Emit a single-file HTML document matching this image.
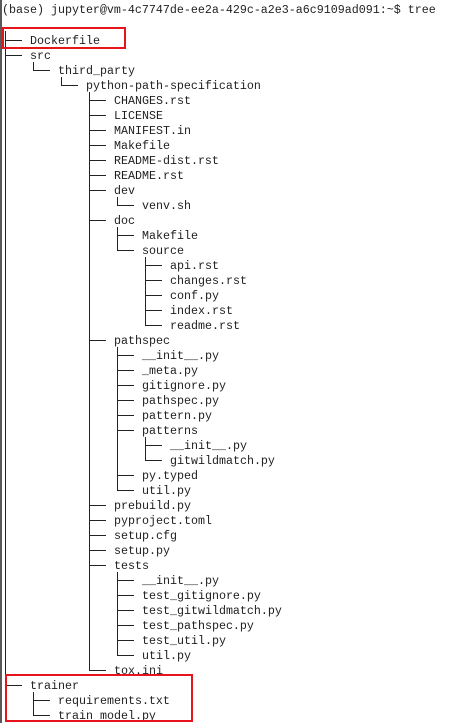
<!DOCTYPE html>
<html><head><meta charset="utf-8"><style>
html,body{margin:0;padding:0;background:#fff;width:451px;height:723px;overflow:hidden}
svg{display:block}
text{font-family:"Liberation Mono","DejaVu Sans Mono",monospace;font-size:11.67px;fill:#1e1e1e}
</style></head><body>
<svg width="451" height="723" viewBox="0 0 451 723">
<line x1="1" y1="0" x2="1" y2="723" stroke="#222" stroke-width="1.5"/>
<text x="2" y="13">(base) jupyter@vm-4c7747de-ee2a-429c-a2e3-a6c9109ad091:~$ tree</text>
<g stroke="#222" stroke-width="1">
<!-- verticals -->
<line x1="5.5" y1="31" x2="5.5" y2="685"/>
<line x1="33.5" y1="62" x2="33.5" y2="70"/>
<line x1="61.5" y1="77" x2="61.5" y2="85"/>
<line x1="89.5" y1="92" x2="89.5" y2="670"/>
<line x1="117.5" y1="197" x2="117.5" y2="205"/>
<line x1="117.5" y1="227" x2="117.5" y2="250"/>
<line x1="145.5" y1="257" x2="145.5" y2="325"/>
<line x1="117.5" y1="347" x2="117.5" y2="490"/>
<line x1="145.5" y1="437" x2="145.5" y2="460"/>
<line x1="117.5" y1="572" x2="117.5" y2="655"/>
<line x1="33.5" y1="692" x2="33.5" y2="715"/>
<!-- horizontals -->
<path d="M5 40.5h17M5 55.5h17M33 70.5h17M61 85.5h17
M89 100.5h17M89 115.5h17M89 130.5h17M89 145.5h17M89 160.5h17M89 175.5h17M89 190.5h17
M117 205.5h17M89 220.5h17M117 235.5h17M117 250.5h17
M145 265.5h17M145 280.5h17M145 295.5h17M145 310.5h17M145 325.5h17
M89 340.5h17M117 355.5h17M117 370.5h17M117 385.5h17M117 400.5h17M117 415.5h17M117 430.5h17
M145 445.5h17M145 460.5h17M117 475.5h17M117 490.5h17
M89 505.5h17M89 520.5h17M89 535.5h17M89 550.5h17M89 565.5h17
M117 580.5h17M117 595.5h17M117 610.5h17M117 625.5h17M117 640.5h17M117 655.5h17
M89 670.5h17M5 685.5h17M33 700.5h17M33 715.5h17"/>
</g>
<text x="30" y="44">Dockerfile</text>
<text x="30" y="59">src</text>
<text x="58" y="74">third_party</text>
<text x="86" y="89">python-path-specification</text>
<text x="114" y="104">CHANGES.rst</text>
<text x="114" y="119">LICENSE</text>
<text x="114" y="134">MANIFEST.in</text>
<text x="114" y="149">Makefile</text>
<text x="114" y="164">README-dist.rst</text>
<text x="114" y="179">README.rst</text>
<text x="114" y="194">dev</text>
<text x="142" y="209">venv.sh</text>
<text x="114" y="224">doc</text>
<text x="142" y="239">Makefile</text>
<text x="142" y="254">source</text>
<text x="170" y="269">api.rst</text>
<text x="170" y="284">changes.rst</text>
<text x="170" y="299">conf.py</text>
<text x="170" y="314">index.rst</text>
<text x="170" y="329">readme.rst</text>
<text x="114" y="344">pathspec</text>
<text x="142" y="359">__init__.py</text>
<text x="142" y="374">_meta.py</text>
<text x="142" y="389">gitignore.py</text>
<text x="142" y="404">pathspec.py</text>
<text x="142" y="419">pattern.py</text>
<text x="142" y="434">patterns</text>
<text x="170" y="449">__init__.py</text>
<text x="170" y="464">gitwildmatch.py</text>
<text x="142" y="479">py.typed</text>
<text x="142" y="494">util.py</text>
<text x="114" y="509">prebuild.py</text>
<text x="114" y="524">pyproject.toml</text>
<text x="114" y="539">setup.cfg</text>
<text x="114" y="554">setup.py</text>
<text x="114" y="569">tests</text>
<text x="142" y="584">__init__.py</text>
<text x="142" y="599">test_gitignore.py</text>
<text x="142" y="614">test_gitwildmatch.py</text>
<text x="142" y="629">test_pathspec.py</text>
<text x="142" y="644">test_util.py</text>
<text x="142" y="659">util.py</text>
<text x="114" y="674">tox.ini</text>
<text x="30" y="689">trainer</text>
<text x="58" y="704">requirements.txt</text>
<text x="58" y="719">train model.py</text>
<rect x="3" y="28" width="122" height="20" fill="none" stroke="#e8141b" stroke-width="2"/>
<rect x="6" y="675" width="186" height="46" fill="none" stroke="#e8141b" stroke-width="2"/>
</svg>
</body></html>
